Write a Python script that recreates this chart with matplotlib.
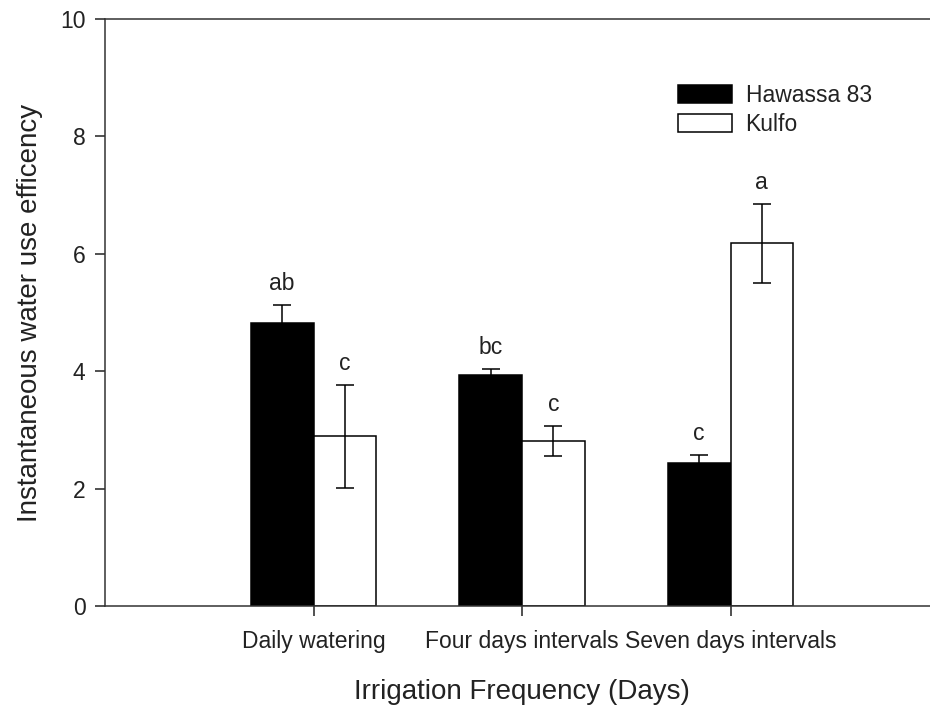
import numpy as np
import matplotlib
matplotlib.use("Agg")
import matplotlib.pyplot as plt

plt.rcParams['font.family'] = ['Liberation Sans', 'DejaVu Sans']

# irrigation treatments and genotype means with standard errors
treatments = ['Daily watering', 'Four days intervals', 'Seven days intervals']
hawassa = [4.82, 3.94, 2.43]
hawassa_err = [0.31, 0.10, 0.15]
kulfo = [2.89, 2.81, 6.18]
kulfo_err = [0.88, 0.26, 0.67]
hawassa_letters = ['ab', 'bc', 'c']
kulfo_letters = ['c', 'c', 'a']

ink = '#222222'
fig = plt.figure(figsize=(9.3, 7.05), dpi=100)
ax = fig.add_axes([0.1129, 0.1404, 0.8968, 0.8326])

x = np.arange(len(treatments))
w = 0.3
err_kw = dict(ecolor='black', elinewidth=1.1, capsize=6.5, capthick=1.1)
ax.bar(x - w / 2, hawassa, w, yerr=hawassa_err, color='black', edgecolor='black',
       linewidth=1.1, error_kw=err_kw, label='Hawassa 83')
ax.bar(x + w / 2, kulfo, w, yerr=kulfo_err, color='white', edgecolor='black',
       linewidth=1.1, error_kw=err_kw, label='Kulfo')

# significance letters above the error bars
for i in range(len(treatments)):
    ax.annotate(hawassa_letters[i], (x[i] - w / 2, hawassa[i] + hawassa_err[i]),
                xytext=(0, 7), textcoords='offset points', ha='center', va='bottom',
                fontsize=16.5, color=ink)
    ax.annotate(kulfo_letters[i], (x[i] + w / 2, kulfo[i] + kulfo_err[i]),
                xytext=(0, 7), textcoords='offset points', ha='center', va='bottom',
                fontsize=16.5, color=ink)

ax.set_xlim(-1, 3)
ax.set_ylim(0, 10)
ax.set_xticks(x)
ax.set_xticklabels(treatments)
ax.set_yticks([0, 2, 4, 6, 8, 10])
ax.tick_params(axis='both', labelsize=16.5, labelcolor=ink, color=ink, width=1.1,
               length=7, direction='out')
ax.tick_params(axis='x', pad=10)
ax.tick_params(axis='y', pad=7)
for side in ['left', 'bottom', 'top']:
    ax.spines[side].set_linewidth(1.1)
    ax.spines[side].set_color('#333333')
ax.spines['right'].set_visible(False)

ax.set_xlabel('Irrigation Frequency (Days)', fontsize=20, color=ink, labelpad=19)
ax.set_ylabel('Instantaneous water use efficency', fontsize=20, color=ink, labelpad=12)

ax.legend(loc='upper left', bbox_to_anchor=(0.687, 0.89), frameon=False,
          fontsize=16.5, borderpad=0, borderaxespad=0, handlelength=2.35,
          handleheight=0.83, handletextpad=0.6, labelspacing=0.28,
          labelcolor=ink)

fig.savefig('out.png', dpi=100)
